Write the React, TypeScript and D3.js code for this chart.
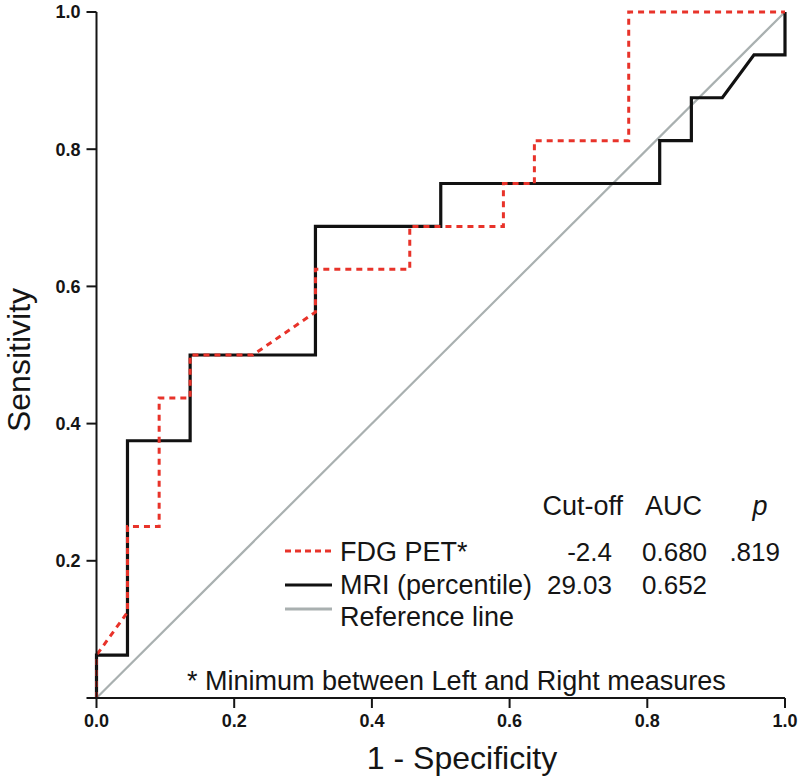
import React from "react";
import * as d3 from "d3";

const fdgFpr = [0, 0, 0.045, 0.045, 0.091, 0.091, 0.136, 0.136, 0.227, 0.318, 0.318, 0.455, 0.455, 0.591, 0.591, 0.636, 0.636, 0.773, 0.773, 1.0];
const fdgTpr = [0, 0.0625, 0.125, 0.25, 0.25, 0.4375, 0.4375, 0.5, 0.5, 0.5625, 0.625, 0.625, 0.6875, 0.6875, 0.75, 0.75, 0.8125, 0.8125, 1.0, 1.0];

const mriFpr = [0, 0, 0.045, 0.045, 0.136, 0.136, 0.318, 0.318, 0.5, 0.5, 0.818, 0.818, 0.864, 0.864, 0.909, 0.955, 1.0, 1.0];
const mriTpr = [0, 0.0625, 0.0625, 0.375, 0.375, 0.5, 0.5, 0.6875, 0.6875, 0.75, 0.75, 0.8125, 0.8125, 0.875, 0.875, 0.9375, 0.9375, 1.0];

const refFpr = [0, 1];
const refTpr = [0, 1];

const xTicks = [0, 0.2, 0.4, 0.6, 0.8, 1.0];
const yTicks = [0.2, 0.4, 0.6, 0.8, 1.0];

const legendHeader = ["Cut-off", "AUC", "p"];
const legendNames = ["FDG PET*", "MRI (percentile)", "Reference line"];
const legendCutoff = ["-2.4", "29.03", ""];
const legendAuc = ["0.680", "0.652", ""];
const legendP = [".819", "", ""];

const RED = "#e8332a";
const BLACK = "#111111";
const GRAY = "#a9b0b0";
const TEXT = "#151515";

export default function App() {
  const x = d3.scaleLinear().domain([0, 1]).range([96.5, 785]);
  const y = d3.scaleLinear().domain([0, 1]).range([698, 12]);

  const line = d3
    .line<[number, number]>()
    .x((d) => x(d[0]))
    .y((d) => y(d[1]));

  const fdg = line(fdgFpr.map((v, i) => [v, fdgTpr[i]] as [number, number])) || "";
  const mri = line(mriFpr.map((v, i) => [v, mriTpr[i]] as [number, number])) || "";
  const ref = line(refFpr.map((v, i) => [v, refTpr[i]] as [number, number])) || "";

  const font = "Liberation Sans, Arial, Helvetica, sans-serif";
  const rowY = [561, 594, 626];
  const sampleY = [551, 585, 609];
  const styles = [
    { stroke: RED, dash: "6,4" },
    { stroke: BLACK, dash: undefined },
    { stroke: GRAY, dash: undefined },
  ];

  return (
    <svg
      width={800}
      height={776}
      style={{ position: "absolute", left: 0, top: 0, background: "#fff" }}
      fontFamily={font}
    >
      <rect x={0} y={0} width={800} height={776} fill="#fff" />
      <path d={ref} fill="none" stroke={GRAY} strokeWidth={2.2} />
      <path d={mri} fill="none" stroke={BLACK} strokeWidth={3.2} strokeLinejoin="miter" />
      <path d={fdg} fill="none" stroke={RED} strokeWidth={3} strokeDasharray="6,5" />

      <line x1={x(0)} x2={x(0)} y1={y(1)} y2={y(0)} stroke={TEXT} strokeWidth={2} />
      <line x1={x(0) - 10} x2={x(1)} y1={y(0)} y2={y(0)} stroke={TEXT} strokeWidth={2} />
      {yTicks.map((t) => (
        <g key={"y" + t}>
          <line x1={x(0) - 10} x2={x(0)} y1={y(t)} y2={y(t)} stroke={TEXT} strokeWidth={2} />
          <text
            x={x(0) - 16}
            y={y(t)}
            dy="0.36em"
            textAnchor="end"
            fontSize={18}
            fontWeight="bold"
            fill={TEXT}
          >
            {t.toFixed(1)}
          </text>
        </g>
      ))}
      {xTicks.map((t) => (
        <g key={"x" + t}>
          <line x1={x(t)} x2={x(t)} y1={y(0)} y2={y(0) + 10} stroke={TEXT} strokeWidth={2} />
          <text x={x(t)} y={727} textAnchor="middle" fontSize={18} fontWeight="bold" fill={TEXT}>
            {t.toFixed(1)}
          </text>
        </g>
      ))}

      <text x={462} y={769} textAnchor="middle" fontSize={32} fill={TEXT}>
        1 - Specificity
      </text>
      <text
        transform="translate(30,360) rotate(-90)"
        textAnchor="middle"
        fontSize={32}
        fill={TEXT}
      >
        Sensitivity
      </text>

      <text x={623} y={515} textAnchor="end" fontSize={27} fill={TEXT}>
        {legendHeader[0]}
      </text>
      <text x={645} y={515} textAnchor="start" fontSize={27} fill={TEXT}>
        {legendHeader[1]}
      </text>
      <text x={760} y={515} textAnchor="middle" fontSize={27} fontStyle="italic" fill={TEXT}>
        {legendHeader[2]}
      </text>
      {legendNames.map((n, i) => (
        <g key={n}>
          <line
            x1={285}
            x2={332}
            y1={sampleY[i]}
            y2={sampleY[i]}
            stroke={styles[i].stroke}
            strokeWidth={3}
            strokeDasharray={styles[i].dash}
          />
          <text x={340} y={rowY[i]} fontSize={27} fill={TEXT}>
            {n}
          </text>
          <text x={612} y={rowY[i]} textAnchor="end" fontSize={26} fill={TEXT}>
            {legendCutoff[i]}
          </text>
          <text x={642} y={rowY[i]} textAnchor="start" fontSize={26} fill={TEXT}>
            {legendAuc[i]}
          </text>
          <text x={780} y={rowY[i]} textAnchor="end" fontSize={26} fill={TEXT}>
            {legendP[i]}
          </text>
        </g>
      ))}

      <text x={187} y={690} fontSize={27} fill={TEXT}>
        * Minimum between Left and Right measures
      </text>
    </svg>
  );
}
